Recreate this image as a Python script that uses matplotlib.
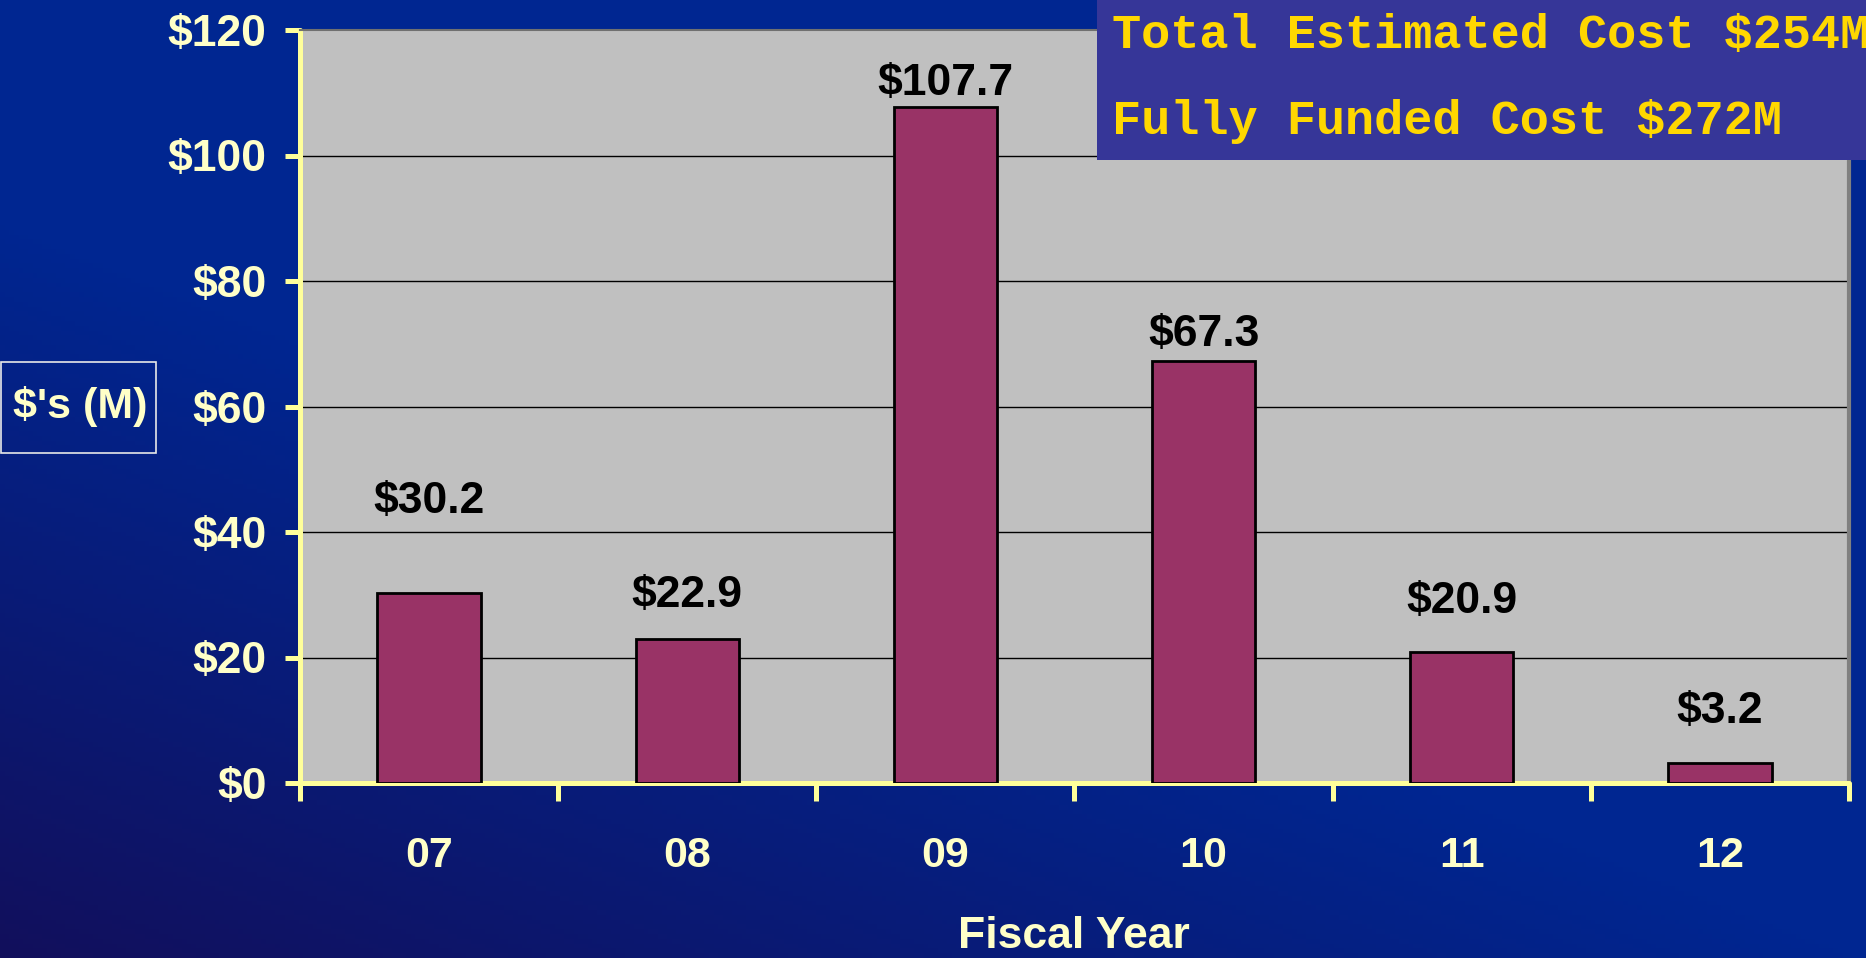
import numpy as np
import matplotlib
matplotlib.use("Agg")
import matplotlib.pyplot as plt
from matplotlib.patches import Rectangle

# chart data
years = ['07', '08', '09', '10', '11', '12']
costs = [30.2, 22.9, 107.7, 67.3, 20.9, 3.2]
cost_labels = ['$30.2', '$22.9', '$107.7', '$67.3', '$20.9', '$3.2']
y_ticks = [0, 20, 40, 60, 80, 100, 120]
y_tick_labels = ['$0', '$20', '$40', '$60', '$80', '$100', '$120']
box_lines = ['Total Estimated Cost $254M', 'Fully Funded Cost $272M']

# how far each value label sits above its bar (pixels)
label_lift = [92, 44, 24, 26, 50, 51]

W, H = 1866, 958
pale = '#FFFFC8'
axis_yellow = '#FFFF9A'

fig = plt.figure(figsize=(W / 100, H / 100), dpi=100)

# gradient background
bg = fig.add_axes([0, 0, 1, 1], zorder=-10)
xx, yy = np.meshgrid(np.linspace(0, 1, 400), np.linspace(1, 0, 200))
t = np.clip((xx * 1.0 + yy * 1.3) / 1.0, 0, 1)
dark = np.array([0.07, 0.06, 0.36])
main = np.array([0.0, 0.15, 0.57])
img = dark[None, None, :] * (1 - t[..., None]) + main[None, None, :] * t[..., None]
bg.imshow(img, aspect='auto', extent=[0, 1, 0, 1])
bg.axis('off')

ax = fig.add_axes([300 / W, 1 - 783 / H, 1549 / W, 753 / H])
ax.set_facecolor('#C0C0C0')
x = np.arange(len(years))
ax.bar(x, costs, width=0.4, color='#993366', edgecolor='black', linewidth=2, zorder=3)
ax.set_xlim(-0.5, len(years) - 0.5)
ax.set_ylim(0, 120)

for gy in y_ticks[1:-1]:
    ax.axhline(gy, color='black', linewidth=1, zorder=1)

for i, (v, lab) in enumerate(zip(costs, cost_labels)):
    ax.annotate(lab, (i, v), xytext=(0, label_lift[i] * 0.72), textcoords='offset points',
                ha='center', va='center', fontsize=32, fontweight='bold',
                family='Liberation Sans', color='black', zorder=4)

for s in ['left', 'bottom']:
    ax.spines[s].set_color(axis_yellow)
    ax.spines[s].set_linewidth(3.6)
    ax.spines[s].set_capstyle('round')
ax.spines['top'].set_color('#707070')
ax.spines['top'].set_linewidth(1.5)
ax.spines['right'].set_color('#808080')
ax.spines['right'].set_linewidth(3)

ax.set_yticks(y_ticks)
ax.set_yticklabels(y_tick_labels, fontsize=32, fontweight='bold', family='Liberation Sans', color=pale)
ax.tick_params(axis='y', direction='out', length=11, width=3.6, color=axis_yellow, pad=13)

ax.set_xticks(x)
ax.set_xticklabels(years, fontsize=31, fontweight='bold', family='Liberation Sans', color=pale)
ax.set_xticks(np.arange(-0.5, len(years)), minor=True)
ax.tick_params(axis='x', which='major', length=0, pad=38)
ax.tick_params(axis='x', which='minor', direction='out', length=13, width=3.6, color=axis_yellow)

fig.text(1074 / W, 1 - 937 / H, 'Fiscal Year', ha='center', va='center', fontsize=32,
         fontweight='bold', family='Liberation Sans', color=pale)

# y axis title box
fig.patches.append(Rectangle((1 / W, 1 - 453 / H), 155 / W, 91 / H, transform=fig.transFigure,
                             facecolor='none', edgecolor='#E8E8E8', linewidth=1.2))
fig.text(80 / W, 1 - 407 / H, "$'s (M)", ha='center', va='center', fontsize=31,
         fontweight='bold', family='Liberation Sans', color=pale)

# cost box top right
fig.patches.append(Rectangle((1097 / W, 1 - 160 / H), 1 - 1097 / W, 160 / H, transform=fig.transFigure,
                             facecolor='#363698', edgecolor='none', zorder=5))
for line, py in zip(box_lines, [36, 121]):
    fig.text(1112 / W, 1 - py / H, line, ha='left', va='center', fontsize=35, fontweight='bold',
             family='Liberation Mono', color='#FFD700', zorder=6)

fig.savefig('out.png', dpi=100)
